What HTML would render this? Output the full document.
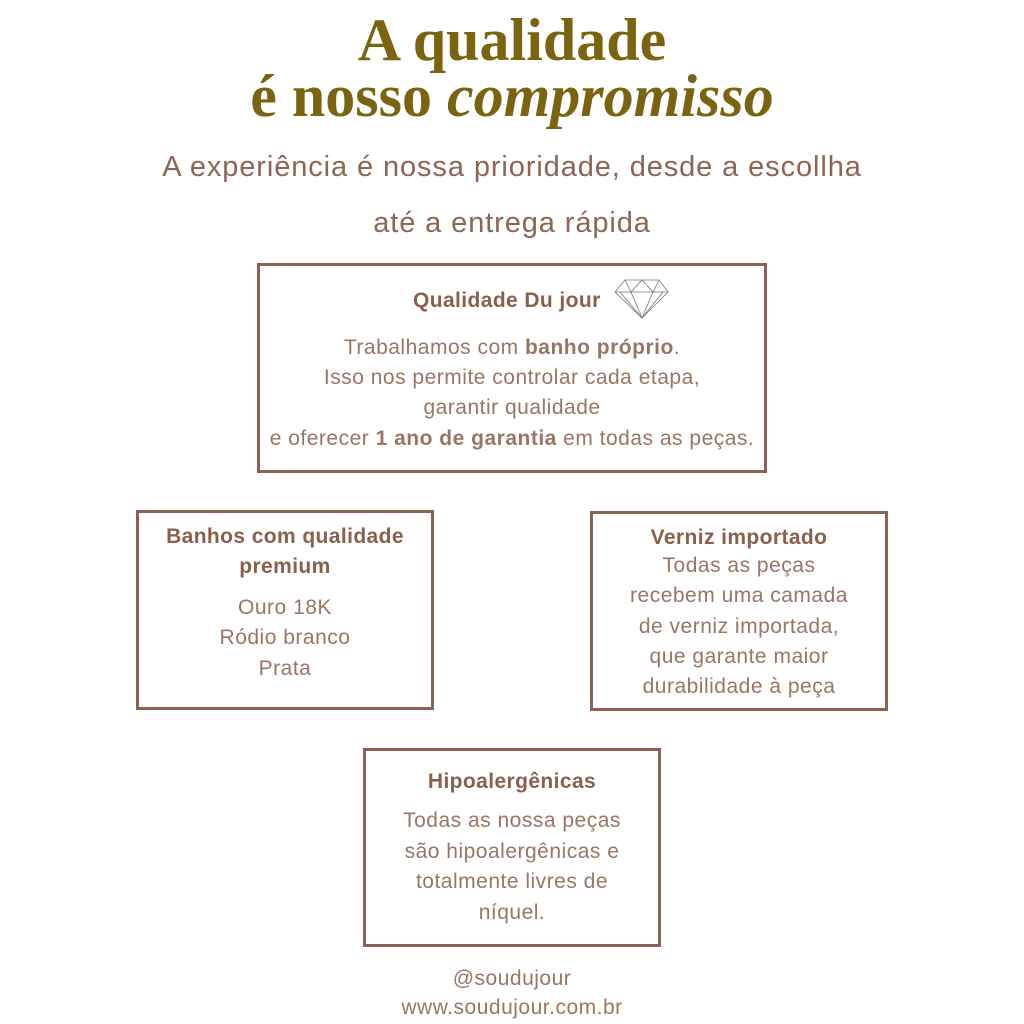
<!DOCTYPE html>
<html><head><meta charset="utf-8"><style>
body{margin:0;width:1024px;height:1024px;background:#fff;position:relative;overflow:hidden;font-family:"Liberation Sans",sans-serif;color:#8d6554}
.t{position:absolute;left:0;width:1024px;text-align:center;white-space:nowrap}
.h{font-family:"Liberation Serif",serif;font-weight:bold;color:#7a6410;font-size:60px}
.box{position:absolute;border:3px solid #8a6352;box-sizing:border-box}
.bx{position:absolute;text-align:center;white-space:nowrap;left:0;right:0}
b{font-weight:bold}
.l{font-size:21px;color:#9a7565;letter-spacing:0.5px}
.hd{font-weight:bold;font-size:21px;color:#8a5f4c;letter-spacing:0.4px}
</style></head><body>
<div class="t h" style="top:6px;">A qualidade</div>
<div class="t h" style="top:62px;">é nosso <i>compromisso</i></div>
<div class="t" style="top:151px;font-size:29px;letter-spacing:0.9px;">A experiência é nossa prioridade, desde a escollha</div>
<div class="t" style="top:207px;font-size:29px;letter-spacing:0.9px;">até a entrega rápida</div>

<div class="box" style="left:257px;top:263px;width:510px;height:210px;">
  <div class="bx hd" style="top:23px;left:-15px;right:auto;width:510px;text-align:left;padding-left:168px;box-sizing:border-box;">Qualidade Du jour</div>
  <svg style="position:absolute;left:354px;top:12px" width="56" height="42" viewBox="0 0 56 42"><g fill="none" stroke="#777" stroke-width="0.8"><polygon points="1,14 11,2 45,2 54,14 28,40"/><line x1="1" y1="14" x2="54" y2="14"/><path d="M11,2 L17,14 L28,2 L39,14 L45,2 M17,14 L28,40 L39,14 M6,14 L28,40 L49,14"/></g></svg>
  <div class="bx l" style="top:70px;">Trabalhamos com <b>banho próprio</b>.</div>
  <div class="bx l" style="top:100px;">Isso nos permite controlar cada etapa,</div>
  <div class="bx l" style="top:130px;">garantir qualidade</div>
  <div class="bx l" style="top:161px;">e oferecer <b>1 ano de garantia</b> em todas as peças.</div>
</div>

<div class="box" style="left:136px;top:510px;width:298px;height:200px;">
  <div class="bx hd" style="top:12px;">Banhos com qualidade</div>
  <div class="bx hd" style="top:42px;">premium</div>
  <div class="bx l" style="top:83px;">Ouro 18K</div>
  <div class="bx l" style="top:113px;">Ródio branco</div>
  <div class="bx l" style="top:144px;">Prata</div>
</div>

<div class="box" style="left:590px;top:511px;width:298px;height:200px;">
  <div class="bx hd" style="top:12px;">Verniz importado</div>
  <div class="bx l" style="top:40px;">Todas as peças</div>
  <div class="bx l" style="top:70px;">recebem uma camada</div>
  <div class="bx l" style="top:101px;">de verniz importada,</div>
  <div class="bx l" style="top:131px;">que garante maior</div>
  <div class="bx l" style="top:161px;">durabilidade à peça</div>
</div>

<div class="box" style="left:363px;top:748px;width:298px;height:199px;">
  <div class="bx hd" style="top:19px;">Hipoalergênicas</div>
  <div class="bx l" style="top:58px;">Todas as nossa peças</div>
  <div class="bx l" style="top:89px;">são hipoalergênicas e</div>
  <div class="bx l" style="top:119px;">totalmente livres de</div>
  <div class="bx l" style="top:150px;">níquel.</div>
</div>

<div class="t l" style="top:967px;">@soudujour</div>
<div class="t l" style="top:996px;">www.soudujour.com.br</div>
</body></html>
